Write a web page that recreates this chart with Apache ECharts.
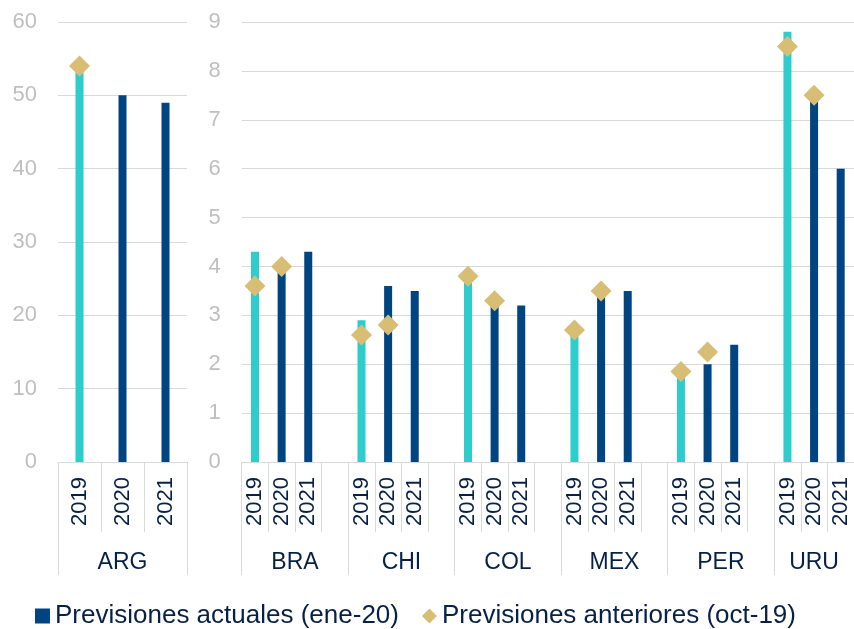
<!DOCTYPE html>
<html>
<head>
<meta charset="utf-8">
<script src="https://cdn.jsdelivr.net/npm/echarts@6/dist/echarts.min.js"></script>
<style>
  html, body { margin: 0; padding: 0; background: #ffffff; }
  #chart { width: 854px; height: 629px; }
</style>
</head>
<body>
<div id="chart"></div>
<script>
// Inflation forecasts by country: current (Jan-20) vs previous (Oct-19)
const years = ['2019', '2020', '2021'];
const leftCountries = ['ARG'];
const rightCountries = ['BRA', 'CHI', 'COL', 'MEX', 'PER', 'URU'];

const argCurrent = [53.8, 50.0, 49.0];
const argPrevious = [54.0, null, null];

// three values (2019, 2020, 2021) per country, in rightCountries order
const regionCurrent = [
  4.3, 3.9, 4.3,
  2.9, 3.6, 3.5,
  3.8, 3.2, 3.2,
  2.8, 3.5, 3.5,
  1.9, 2.0, 2.4,
  8.8, 7.4, 6.0
];
const regionPrevious = [
  3.6, 4.0, null,
  2.6, 2.8, null,
  3.8, 3.3, null,
  2.7, 3.5, null,
  1.85, 2.25, null,
  8.5, 7.5, null
];

const leftAxisMax = 60, leftAxisStep = 10;
const rightAxisMax = 9, rightAxisStep = 1;

const currentName = 'Previsiones actuales (ene-20)';
const previousName = 'Previsiones anteriores (oct-19)';

const NAVY = '#004481';
const AQUA = '#2DCCCD';
const SAND = '#D8BE75';
const DARK = '#072146';
const GRID_GRAY = '#D9D9D9';
const LABEL_GRAY = '#BFBFBF';
const FONT = "'Liberation Sans', Arial, sans-serif";

// Lay countries out as slots of three years, with an empty slot between groups
function buildSlots(countries, current, previous) {
  const cats = [], cur = [], prev = [], groupStarts = [], groupCenters = [];
  countries.forEach((c, i) => {
    const start = cats.length;
    groupStarts.push(start);
    years.forEach((y, j) => {
      cats.push(y);
      const v = current[i * years.length + j];
      cur.push({ value: v, itemStyle: { color: j === 0 ? AQUA : NAVY } });
      const p = previous[i * years.length + j];
      prev.push(p == null ? '-' : p);
    });
    if (i < countries.length - 1) {
      cats.push('');
      cur.push('-');
      prev.push('-');
    }
    groupCenters.push((start + cats.length) / 2);
  });
  return { cats, cur, prev, groupStarts, groupCenters, total: cats.length };
}

const left = buildSlots(leftCountries, argCurrent, argPrevious);
const right = buildSlots(rightCountries, regionCurrent, regionPrevious);

function yearAxis(gridIndex, cats) {
  return {
    type: 'category', gridIndex, data: cats, position: 'bottom',
    axisLine: { show: true, lineStyle: { color: GRID_GRAY, width: 1 } },
    axisTick: { show: true, interval: 0, length: 70, lineStyle: { color: GRID_GRAY, width: 1 } },
    axisLabel: { interval: 0, rotate: 90, margin: 15, color: DARK, fontSize: 22, fontFamily: FONT },
    splitLine: { show: false }
  };
}

function groupAxis(gridIndex, slots, names) {
  const ticks = slots.groupStarts.concat([slots.total]);
  return {
    type: 'value', gridIndex, position: 'bottom', min: 0, max: slots.total,
    axisLine: { show: false },
    splitLine: { show: false },
    axisTick: { show: true, customValues: ticks, length: 113, lineStyle: { color: GRID_GRAY, width: 1 } },
    axisLabel: {
      customValues: slots.groupCenters, margin: 89, color: DARK, fontSize: 23, fontFamily: FONT,
      formatter: v => {
        const k = slots.groupCenters.indexOf(v);
        return k >= 0 ? names[k] : '';
      }
    }
  };
}

function valueAxis(gridIndex, max, step) {
  return {
    type: 'value', gridIndex, min: 0, max, interval: step,
    axisLine: { show: false }, axisTick: { show: false },
    axisLabel: { color: LABEL_GRAY, fontSize: 22, fontFamily: FONT, margin: 21 },
    splitLine: { show: true, lineStyle: { color: GRID_GRAY, width: 1 } }
  };
}

const chart = echarts.init(document.getElementById('chart'), null, { renderer: 'canvas' });
chart.setOption({
  animation: false,
  backgroundColor: '#ffffff',
  grid: [
    { left: 58, width: 129, top: 22, bottom: 167 },
    { left: 241.7, width: 615.3, top: 22, bottom: 167 }
  ],
  xAxis: [
    yearAxis(0, left.cats),
    groupAxis(0, left, leftCountries),
    yearAxis(1, right.cats),
    groupAxis(1, right, rightCountries)
  ],
  yAxis: [
    valueAxis(0, leftAxisMax, leftAxisStep),
    valueAxis(1, rightAxisMax, rightAxisStep)
  ],
  legend: {
    left: 35, top: 603, padding: 0, itemGap: 23, itemWidth: 15, itemHeight: 15,
    textStyle: { color: DARK, fontSize: 26, fontFamily: FONT },
    data: [
      { name: currentName, icon: 'rect', itemStyle: { color: NAVY } },
      { name: previousName, icon: 'diamond', itemStyle: { color: SAND } }
    ]
  },
  series: [
    { name: currentName, type: 'bar', xAxisIndex: 0, yAxisIndex: 0, barWidth: 8,
      itemStyle: { color: NAVY }, data: left.cur },
    { name: previousName, type: 'scatter', xAxisIndex: 0, yAxisIndex: 0, symbol: 'diamond',
      symbolSize: 21, itemStyle: { color: SAND, opacity: 1 }, data: left.prev },
    { name: currentName, type: 'bar', xAxisIndex: 2, yAxisIndex: 1, barWidth: 8,
      itemStyle: { color: NAVY }, data: right.cur },
    { name: previousName, type: 'scatter', xAxisIndex: 2, yAxisIndex: 1, symbol: 'diamond',
      symbolSize: 21, itemStyle: { color: SAND, opacity: 1 }, data: right.prev }
  ]
});
</script>
</body>
</html>
